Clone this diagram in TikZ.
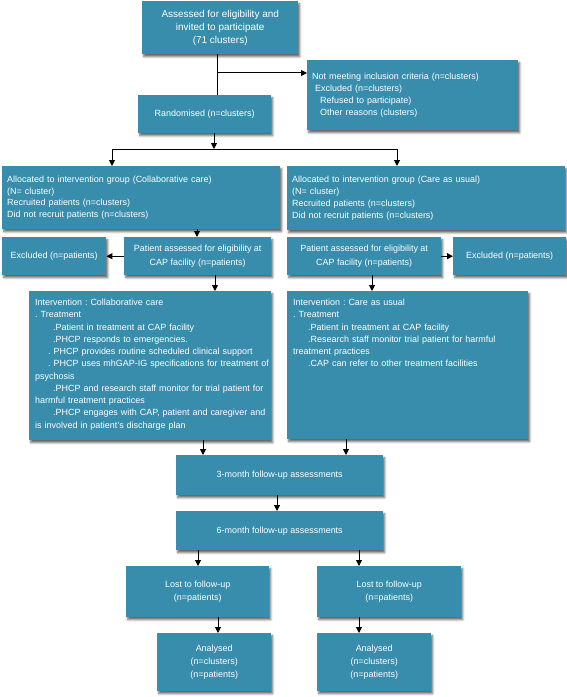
\documentclass[tikz,border=0pt]{standalone}
\usepackage{fontspec}
\setmainfont{Liberation Sans}
\usetikzlibrary{arrows.meta,shadows.blur}
\definecolor{boxblue}{RGB}{55,141,171}
\frenchspacing
\begin{document}
\begin{tikzpicture}[x=1bp,y=-1bp,
  box/.style={fill=boxblue, text=white, anchor=north west, inner xsep=5bp, inner ysep=0pt,
    blur shadow={shadow xshift=1.5bp, shadow yshift=-2.5bp, shadow blur radius=2bp, shadow blur steps=5, shadow opacity=60},
    font=\fontsize{9}{12.3}\selectfont},
  cbox/.style={box, align=center},
  lbox/.style={box, align=left},
  btext/.style={text=white, inner sep=0pt, align=left, font=\fontsize{9}{12.3}\selectfont},
  ln/.style={line width=1bp},
  arr/.style={line width=1bp, -{Triangle[length=6bp,width=6bp]}}
]
\useasboundingbox (0,0) rectangle (567,697);

% boxes
\node[cbox, font=\fontsize{10}{13.2}\selectfont, minimum width=156bp, minimum height=53bp] (top) at (142,1)
  {Assessed for eligibility and\\invited to participate\\(71 clusters)};
\node[lbox, text width=201bp, minimum height=70bp] (excl) at (307,60)
  {Not meeting inclusion criteria (n=clusters)\\
   \hspace*{3bp}Excluded (n=clusters)\\
   \hspace*{8bp}Refused to participate)\\
   \hspace*{8bp}Other reasons (clusters)};
\node[cbox, minimum width=133bp, minimum height=38bp] (rand) at (138,95) {Randomised (n=clusters)};

\node[lbox, text width=268bp, minimum height=63bp, font=\fontsize{9}{12}\selectfont] (allocL) at (2,166)
  {Allocated to intervention group (Collaborative care)\\(N= cluster)\\Recruited patients (n=clusters)\\Did not recruit patients (n=clusters)};
\node[lbox, text width=268bp, minimum height=64bp, font=\fontsize{9}{12}\selectfont] (allocR) at (287,166)
  {Allocated to intervention group (Care as usual)\\(N= cluster)\\Recruited patients (n=clusters)\\Did not recruit patients (n=clusters)};

\node[cbox, inner xsep=0pt, minimum width=104bp, minimum height=38bp] (exclL) at (2,237) {Excluded (n=patients)};
\node[cbox, inner xsep=0pt, minimum width=147bp, minimum height=38bp, font=\fontsize{9}{13.5}\selectfont] (patL) at (124,237)
  {Patient assessed for eligibility at\\CAP facility (n=patients)};
\node[cbox, inner xsep=0pt, minimum width=154bp, minimum height=38bp, font=\fontsize{9}{13.5}\selectfont] (patR) at (287,237)
  {Patient assessed for eligibility at\\CAP facility (n=patients)};
\node[cbox, inner xsep=0pt, minimum width=113bp, minimum height=38bp] (exclR) at (453,237) {Excluded (n=patients)};

\node[box, minimum width=242bp, minimum height=149bp] (intL) at (29,291) {};
\node[btext, anchor=north west, text width=280bp] (intLt) at ([xshift=6bp,yshift=-8bp]intL.north west)
  {Intervention : Collaborative care\\
   . Treatment\\
   \hspace*{18bp}.Patient in treatment at CAP facility\\
   \hspace*{18bp}.PHCP responds to emergencies.\\
   \hspace*{13bp}. PHCP provides routine scheduled clinical support\\
   \hspace*{13bp}. PHCP uses mhGAP-IG specifications for treatment of\\
   psychosis\\
   \hspace*{18bp}.PHCP and research staff monitor for trial patient for\\
   harmful treatment practices\\
   \hspace*{18bp}.PHCP engages with CAP, patient and caregiver and\\
   is involved in patient's discharge plan};

\node[box, minimum width=241bp, minimum height=148bp] (intR) at (287,291) {};
\node[btext, anchor=north west, text width=230bp] (intRt) at ([xshift=6bp,yshift=-8bp]intR.north west)
  {Intervention : Care as usual\\
   . Treatment\\
   \hspace*{15bp}.Patient in treatment at CAP facility\\
   \hspace*{15bp}.Research staff monitor trial patient for harmful\\
   treatment practices\\
   \hspace*{15bp}.CAP can refer to other treatment facilities};

\node[cbox, minimum width=207bp, minimum height=40bp] (three) at (176,455) {3-month follow-up assessments};
\node[cbox, minimum width=207bp, minimum height=39bp] (six) at (176,511) {6-month follow-up assessments};

\node[cbox, minimum width=143bp, minimum height=51bp, font=\fontsize{9}{13}\selectfont] (lostL) at (126,566) {Lost to follow-up\\(n=patients)};
\node[cbox, minimum width=144bp, minimum height=51bp, font=\fontsize{9}{13}\selectfont] (lostR) at (317,566) {Lost to follow-up\\(n=patients)};
\node[cbox, minimum width=114bp, minimum height=58bp, font=\fontsize{9}{13}\selectfont] (analL) at (157,633) {Analysed\\(n=clusters)\\(n=patients)};
\node[cbox, minimum width=114bp, minimum height=58bp, font=\fontsize{9}{13}\selectfont] (analR) at (317,633) {Analysed\\(n=clusters)\\(n=patients)};

% connectors
\coordinate (j1) at (217,73);
\draw[ln] (top.south -| j1) -- (rand.north -| j1);
\draw[arr] (j1) -- (excl.west |- j1);

\coordinate (j2) at (214,149);
\coordinate (jl) at (112,149);
\coordinate (jr) at (397,149);
\draw[arr] (rand.south -| j2) -- (j2);
\draw[ln] (jl) -- (jr);
\draw[arr] (jl) -- (allocL.north -| jl);
\draw[arr] (jr) -- (allocR.north -| jr);

\coordinate (c1) at (197,0);
\draw[arr] (allocL.south -| c1) -- (patL.north -| c1);
\draw[arr] (patL.west) -- (exclL.east);
\draw[arr] (patR.east) -- (exclR.west);

\coordinate (c2) at (215,0);
\draw[arr] (patL.south -| c2) -- (intL.north -| c2);
\coordinate (c3) at (372,0);
\draw[arr] (patR.south -| c3) -- (intR.north -| c3);

\coordinate (c4) at (203,0);
\draw[arr] (intL.south -| c4) -- (three.north -| c4);
\coordinate (c5) at (346,0);
\draw[arr] (intR.south -| c5) -- (three.north -| c5);

\coordinate (c6) at (277,0);
\draw[arr] (three.south -| c6) -- (six.north -| c6);

\coordinate (c7) at (198,0);
\draw[arr] (six.south -| c7) -- (lostL.north -| c7);
\coordinate (c8) at (359,0);
\draw[arr] (six.south -| c8) -- (lostR.north -| c8);

\coordinate (c9) at (218,0);
\draw[arr] (lostL.south -| c9) -- (analL.north -| c9);
\draw[arr] (lostR.south -| c8) -- (analR.north -| c8);
\end{tikzpicture}
\end{document}
